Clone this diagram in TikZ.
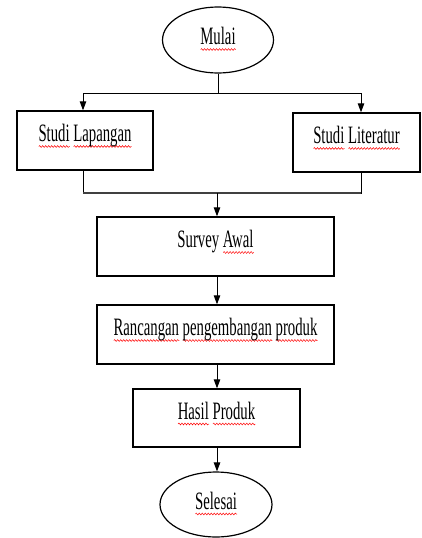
\documentclass[tikz,border=0pt]{standalone}
\usepackage{fontspec}
\setmainfont[FakeStretch=0.59]{Liberation Serif}
\usetikzlibrary{arrows.meta,shapes.geometric,decorations.pathmorphing}
\newlength\rwl
\newcommand\rwave[1]{\settowidth\rwl{#1}\rlap{\smash{\raisebox{-5pt}{\tikz[x=1pt,y=1pt,baseline=0pt]\draw[red,line width=0.5pt,decorate,decoration={snake,amplitude=0.9pt,segment length=3pt}] (0,0) -- (\rwl,0);}}}#1}
\begin{document}
\begin{tikzpicture}[x=1pt,y=-1pt,
  lbl/.style={font=\fontsize{25}{30}\selectfont, text height=17pt},
  box/.style={draw, rectangle, inner sep=0pt, line width=1.4pt, fill=white, lbl, text depth=15pt},
  term/.style={draw, ellipse, inner sep=0pt, line width=1.2pt, lbl, text depth=8pt},
  arr/.style={-{Triangle[length=9pt,width=6.5pt]}, line width=1pt},
  ln/.style={line width=1pt}]
\useasboundingbox (0,0) rectangle (422,538);
\node[term, minimum width=111pt, minimum height=66pt] (mulai) at (218,40) {\rwave{Mulai}};
\node[box, minimum width=136pt, minimum height=59pt] (lap) at (85,140.5) {\rwave{Studi} \rwave{Lapangan}};
\node[box, minimum width=127pt, minimum height=59pt] (lit) at (356.5,142.5) {\rwave{Studi} \rwave{Literatur}};
\node[box, minimum width=237pt, minimum height=59pt] (survey) at (215.5,246.5) {Survey \rwave{Awal}};
\node[box, minimum width=237pt, minimum height=59pt] (ranc) at (215.5,334.5) {\rwave{Rancangan} \rwave{pengembangan} \rwave{produk}};
\node[box, minimum width=167pt, minimum height=58pt] (hasil) at (216.5,418) {\rwave{Hasil} \rwave{Produk}};
\node[term, minimum width=112pt, minimum height=65pt] (selesai) at (216,504.5) {\rwave{Selesai}};
\coordinate (j1) at (218,93);
\coordinate (j2) at (217,193);
\draw[ln] (mulai.south) -- (j1);
\draw[arr] (j1) -| ([xshift=-2pt]lap.north);
\draw[arr] (j1) -| ([xshift=4.5pt]lit.north);
\draw[ln] ([xshift=-2pt]lap.south) |- (j2);
\draw[ln] ([xshift=4.5pt]lit.south) |- (j2);
\draw[line width=1.6pt, black!75] ([xshift=-2pt]lap.south |- j2) -- ([xshift=4.5pt]lit.south |- j2);
\draw[arr] (j2) -- (survey.north -| j2);
\draw[arr] (survey.south -| j2) -- (ranc.north -| j2);
\draw[arr] (ranc.south -| j2) -- (hasil.north -| j2);
\draw[arr] (hasil.south -| j2) -- (selesai.north -| j2);
\end{tikzpicture}
\end{document}
